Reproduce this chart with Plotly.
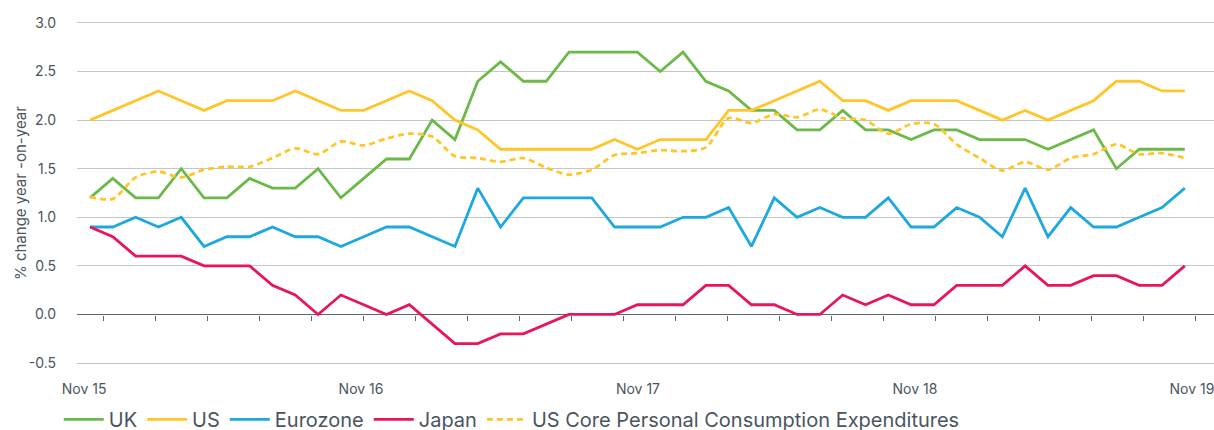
import numpy as np
import plotly.graph_objects as go

months = list(range(49))
x_label_text = ["Nov 15", "Nov 16", "Nov 17", "Nov 18", "Nov 19"]
y_tick_vals = [-0.5, 0.0, 0.5, 1.0, 1.5, 2.0, 2.5, 3.0]
y_tick_text = ["-0.5", "0.0", "0.5", "1.0", "1.5", "2.0", "2.5", "3.0"]
y_title = "% change year -on-year"

uk = [1.2, 1.4, 1.2, 1.2, 1.5, 1.2, 1.2, 1.4, 1.3, 1.3, 1.5, 1.2, 1.4, 1.6, 1.6,
      2.0, 1.8, 2.4, 2.6, 2.4, 2.4, 2.7, 2.7, 2.7, 2.7, 2.5, 2.7, 2.4, 2.3, 2.1, 2.1, 1.9, 1.9,
      2.1, 1.9, 1.9, 1.8, 1.9, 1.9, 1.8, 1.8, 1.8, 1.7, 1.8, 1.9, 1.5, 1.7, 1.7, 1.7]
us = [2.0, 2.1, 2.2, 2.3, 2.2, 2.1, 2.2, 2.2, 2.2, 2.3, 2.2, 2.1, 2.1, 2.2, 2.3,
      2.2, 2.0, 1.9, 1.7, 1.7, 1.7, 1.7, 1.7, 1.8, 1.7, 1.8, 1.8, 1.8, 2.1, 2.1, 2.2, 2.3, 2.4,
      2.2, 2.2, 2.1, 2.2, 2.2, 2.2, 2.1, 2.0, 2.1, 2.0, 2.1, 2.2, 2.4, 2.4, 2.3, 2.3]
eurozone = [0.9, 0.9, 1.0, 0.9, 1.0, 0.7, 0.8, 0.8, 0.9, 0.8, 0.8, 0.7, 0.8, 0.9, 0.9,
            0.8, 0.7, 1.3, 0.9, 1.2, 1.2, 1.2, 1.2, 0.9, 0.9, 0.9, 1.0, 1.0, 1.1, 0.7, 1.2, 1.0, 1.1,
            1.0, 1.0, 1.2, 0.9, 0.9, 1.1, 1.0, 0.8, 1.3, 0.8, 1.1, 0.9, 0.9, 1.0, 1.1, 1.3]
japan = [0.9, 0.8, 0.6, 0.6, 0.6, 0.5, 0.5, 0.5, 0.3, 0.2, 0.0, 0.2, 0.1, 0.0, 0.1,
         -0.1, -0.3, -0.3, -0.2, -0.2, -0.1, 0.0, 0.0, 0.0, 0.1, 0.1, 0.1, 0.3, 0.3, 0.1, 0.1, 0.0, 0.0,
         0.2, 0.1, 0.2, 0.1, 0.1, 0.3, 0.3, 0.3, 0.5, 0.3, 0.3, 0.4, 0.4, 0.3, 0.3, 0.5]
us_core_pce = [1.21, 1.19, 1.41, 1.47, 1.41, 1.49, 1.52, 1.52, 1.61, 1.71, 1.65, 1.78, 1.74, 1.81, 1.86,
               1.83, 1.63, 1.61, 1.57, 1.61, 1.51, 1.44, 1.49, 1.64, 1.66, 1.69, 1.68, 1.72, 2.02, 1.97, 2.06, 2.03, 2.11,
               2.02, 2.00, 1.86, 1.96, 1.96, 1.75, 1.61, 1.48, 1.57, 1.49, 1.61, 1.65, 1.75, 1.65, 1.66, 1.61]

TXT = "#4a5560"
FONT = "Inter"

# category labels are spread evenly a little wider than the data points
x_label_pos = list(np.linspace(-0.26, 48.31, len(x_label_text)))

fig = go.Figure()
series = [
    ("UK", uk, "#6cb94a", "solid", "linear"),
    ("US", us, "#ffc629", "solid", "linear"),
    ("Eurozone", eurozone, "#1ea8e0", "solid", "linear"),
    ("Japan", japan, "#e8155e", "solid", "linear"),
    ("US Core Personal Consumption Expenditures", us_core_pce, "#ffc629", "6px,4px", "spline"),
]
for name, vals, col, dash, shape in series:
    fig.add_trace(go.Scatter(x=months, y=vals, name=name, mode="lines",
                             line=dict(color=col, width=2.8, dash=dash, shape=shape,
                                       smoothing=0.8 if shape == "spline" else None),
                             hoverinfo="skip"))

# invisible trace to activate the zero-line tick axis
fig.add_trace(go.Scatter(x=[months[0]], y=[0], xaxis="x2", mode="lines",
                         showlegend=False, hoverinfo="skip", line=dict(width=0)))

xr = [-0.57, 49.28]
yr = [-0.52, 3.02]
zero_pos = (0 - yr[0]) / (yr[1] - yr[0])

fig.update_layout(
    width=1214, height=430,
    margin=dict(l=77, r=0, t=21, b=65),
    paper_bgcolor="white", plot_bgcolor="white",
    font=dict(family=FONT, color=TXT, size=14),
    xaxis=dict(range=xr, tickvals=x_label_pos, ticktext=x_label_text, showgrid=False,
               zeroline=False, showline=False, ticks="", tickfont=dict(size=14, color=TXT),
               ticklabelstandoff=14, automargin=False, ticklabeloverflow="allow"),
    xaxis2=dict(range=xr, overlaying="x", anchor="free", position=zero_pos, side="bottom",
                showline=True, linecolor="#5d6670", linewidth=1.2, layer="below traces",
                ticks="outside", ticklen=5, tickwidth=1.2, tickcolor="#5d6670",
                tick0=0.57, dtick=2.28, showticklabels=False, showgrid=False, zeroline=False,
                automargin=False),
    yaxis=dict(range=yr, tickvals=y_tick_vals, ticktext=y_tick_text,
               showgrid=True, gridcolor="#c3c7cb", gridwidth=1.2,
               zeroline=False, showline=False, ticks="", tickfont=dict(size=14, color=TXT),
               ticklabelstandoff=20, automargin=False),
    annotations=[dict(text=y_title, textangle=-90, xref="paper", yref="paper",
                      x=-0.0501, y=0.5, xanchor="center", yanchor="middle",
                      showarrow=False, font=dict(size=15, color=TXT, family=FONT))],
    legend=dict(orientation="h", xref="container", yref="container",
                x=0.0484, xanchor="left", y=0.07, yanchor="top",
                font=dict(size=20, color=TXT), itemwidth=40, tracegroupgap=0,
                bgcolor="rgba(0,0,0,0)"),
    showlegend=True,
)

fig.write_html("out.html", config={"displayModeBar": False},
               post_script="document.body.style.margin='0';document.body.style.padding='0';")
